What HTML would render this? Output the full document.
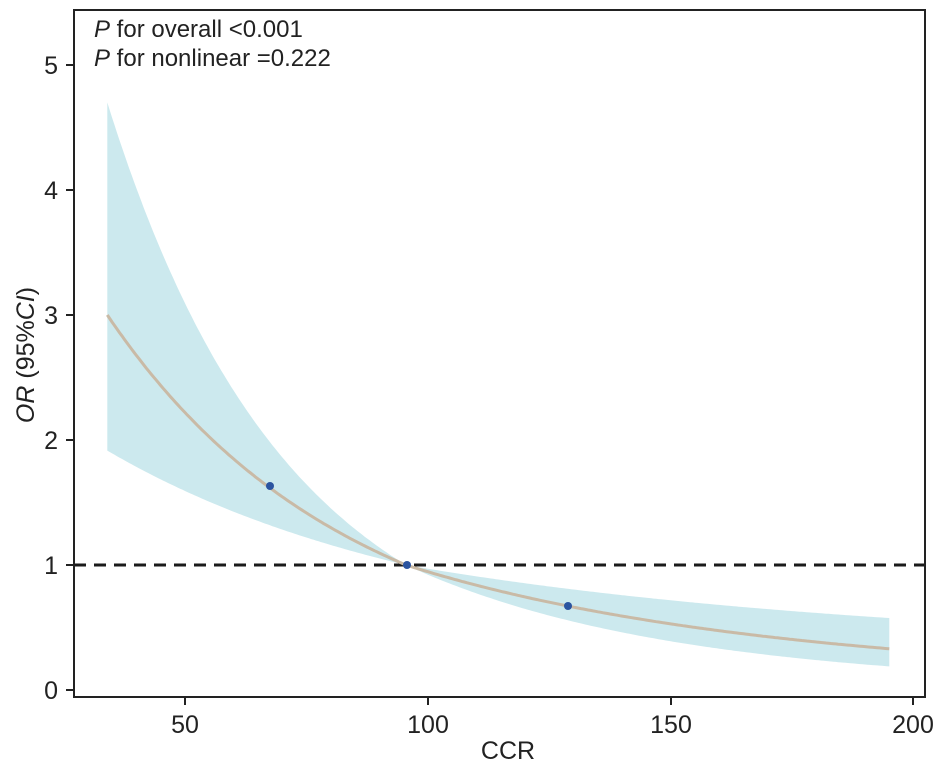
<!DOCTYPE html>
<html><head><meta charset="utf-8"><style>
body{margin:0;background:#fff;}
svg text{font-family:"Liberation Sans",sans-serif;fill:#222;}
</style></head><body>
<svg id="s" width="942" height="765" viewBox="0 0 942 765" xmlns="http://www.w3.org/2000/svg">
<path id="band" fill="#cce9ee" stroke="none"/>
<line x1="74" y1="565" x2="925" y2="565" stroke="#1a1a1a" stroke-width="3" stroke-dasharray="12,8"/>
<path id="curve" fill="none" stroke="#c9baa6" stroke-width="3"/>
<circle cx="270" cy="486" r="4" fill="#2b54a0"/>
<circle cx="407" cy="565" r="4" fill="#2b54a0"/>
<circle cx="568" cy="606" r="4" fill="#2b54a0"/>
<rect x="74" y="10" width="851" height="687" fill="none" stroke="#222" stroke-width="2"/>
<g stroke="#222" stroke-width="2">
<line x1="66" y1="690" x2="74" y2="690"/><line x1="66" y1="565" x2="74" y2="565"/><line x1="66" y1="440" x2="74" y2="440"/><line x1="66" y1="315" x2="74" y2="315"/><line x1="66" y1="190" x2="74" y2="190"/><line x1="66" y1="65" x2="74" y2="65"/>
<line x1="185" y1="697" x2="185" y2="705"/><line x1="428" y1="697" x2="428" y2="705"/><line x1="671" y1="697" x2="671" y2="705"/><line x1="913" y1="697" x2="913" y2="705"/>
</g>
<g font-size="25" text-anchor="end">
<text x="58" y="699">0</text><text x="58" y="574">1</text><text x="58" y="449">2</text><text x="58" y="324">3</text><text x="58" y="199">4</text><text x="58" y="74">5</text>
</g>
<g font-size="25" text-anchor="middle">
<text x="185" y="733">50</text><text x="428" y="733">100</text><text x="671" y="733">150</text><text x="913" y="733">200</text>
<text x="508" y="759">CCR</text>
</g>
<text font-size="25" transform="translate(34,355) rotate(-90)" text-anchor="middle"><tspan font-style="italic">OR</tspan> (95%<tspan font-style="italic">CI</tspan>)</text>
<text x="94" y="37" font-size="24"><tspan font-style="italic">P</tspan> for overall &lt;0.001</text>
<text x="94" y="66" font-size="24"><tspan font-style="italic">P</tspan> for nonlinear =0.222</text>
</svg>
<script>
function X(v){return 185+(v-50)*4.857;}
function Y(v){return 690-v*125;}
function L(d){return d<0?(-0.01655*d+2.14e-5*d*d):(-0.01234*d+1.2e-5*d*d);}
var up=[],lo=[],cv=[];
for(var x=34;x<=195.01;x+=0.5){var d=x-95.5,l=L(d),w=d<0?-0.0073*d:0.0056*d;
cv.push(X(x).toFixed(1)+","+Y(Math.exp(l)).toFixed(1));
up.push(X(x).toFixed(1)+","+Y(Math.exp(l+w)).toFixed(1));
lo.unshift(X(x).toFixed(1)+","+Y(Math.exp(l-w)).toFixed(1));}
document.getElementById("curve").setAttribute("d","M"+cv.join("L"));
document.getElementById("band").setAttribute("d","M"+up.join("L")+"L"+lo.join("L")+"Z");
</script>
</body></html>
